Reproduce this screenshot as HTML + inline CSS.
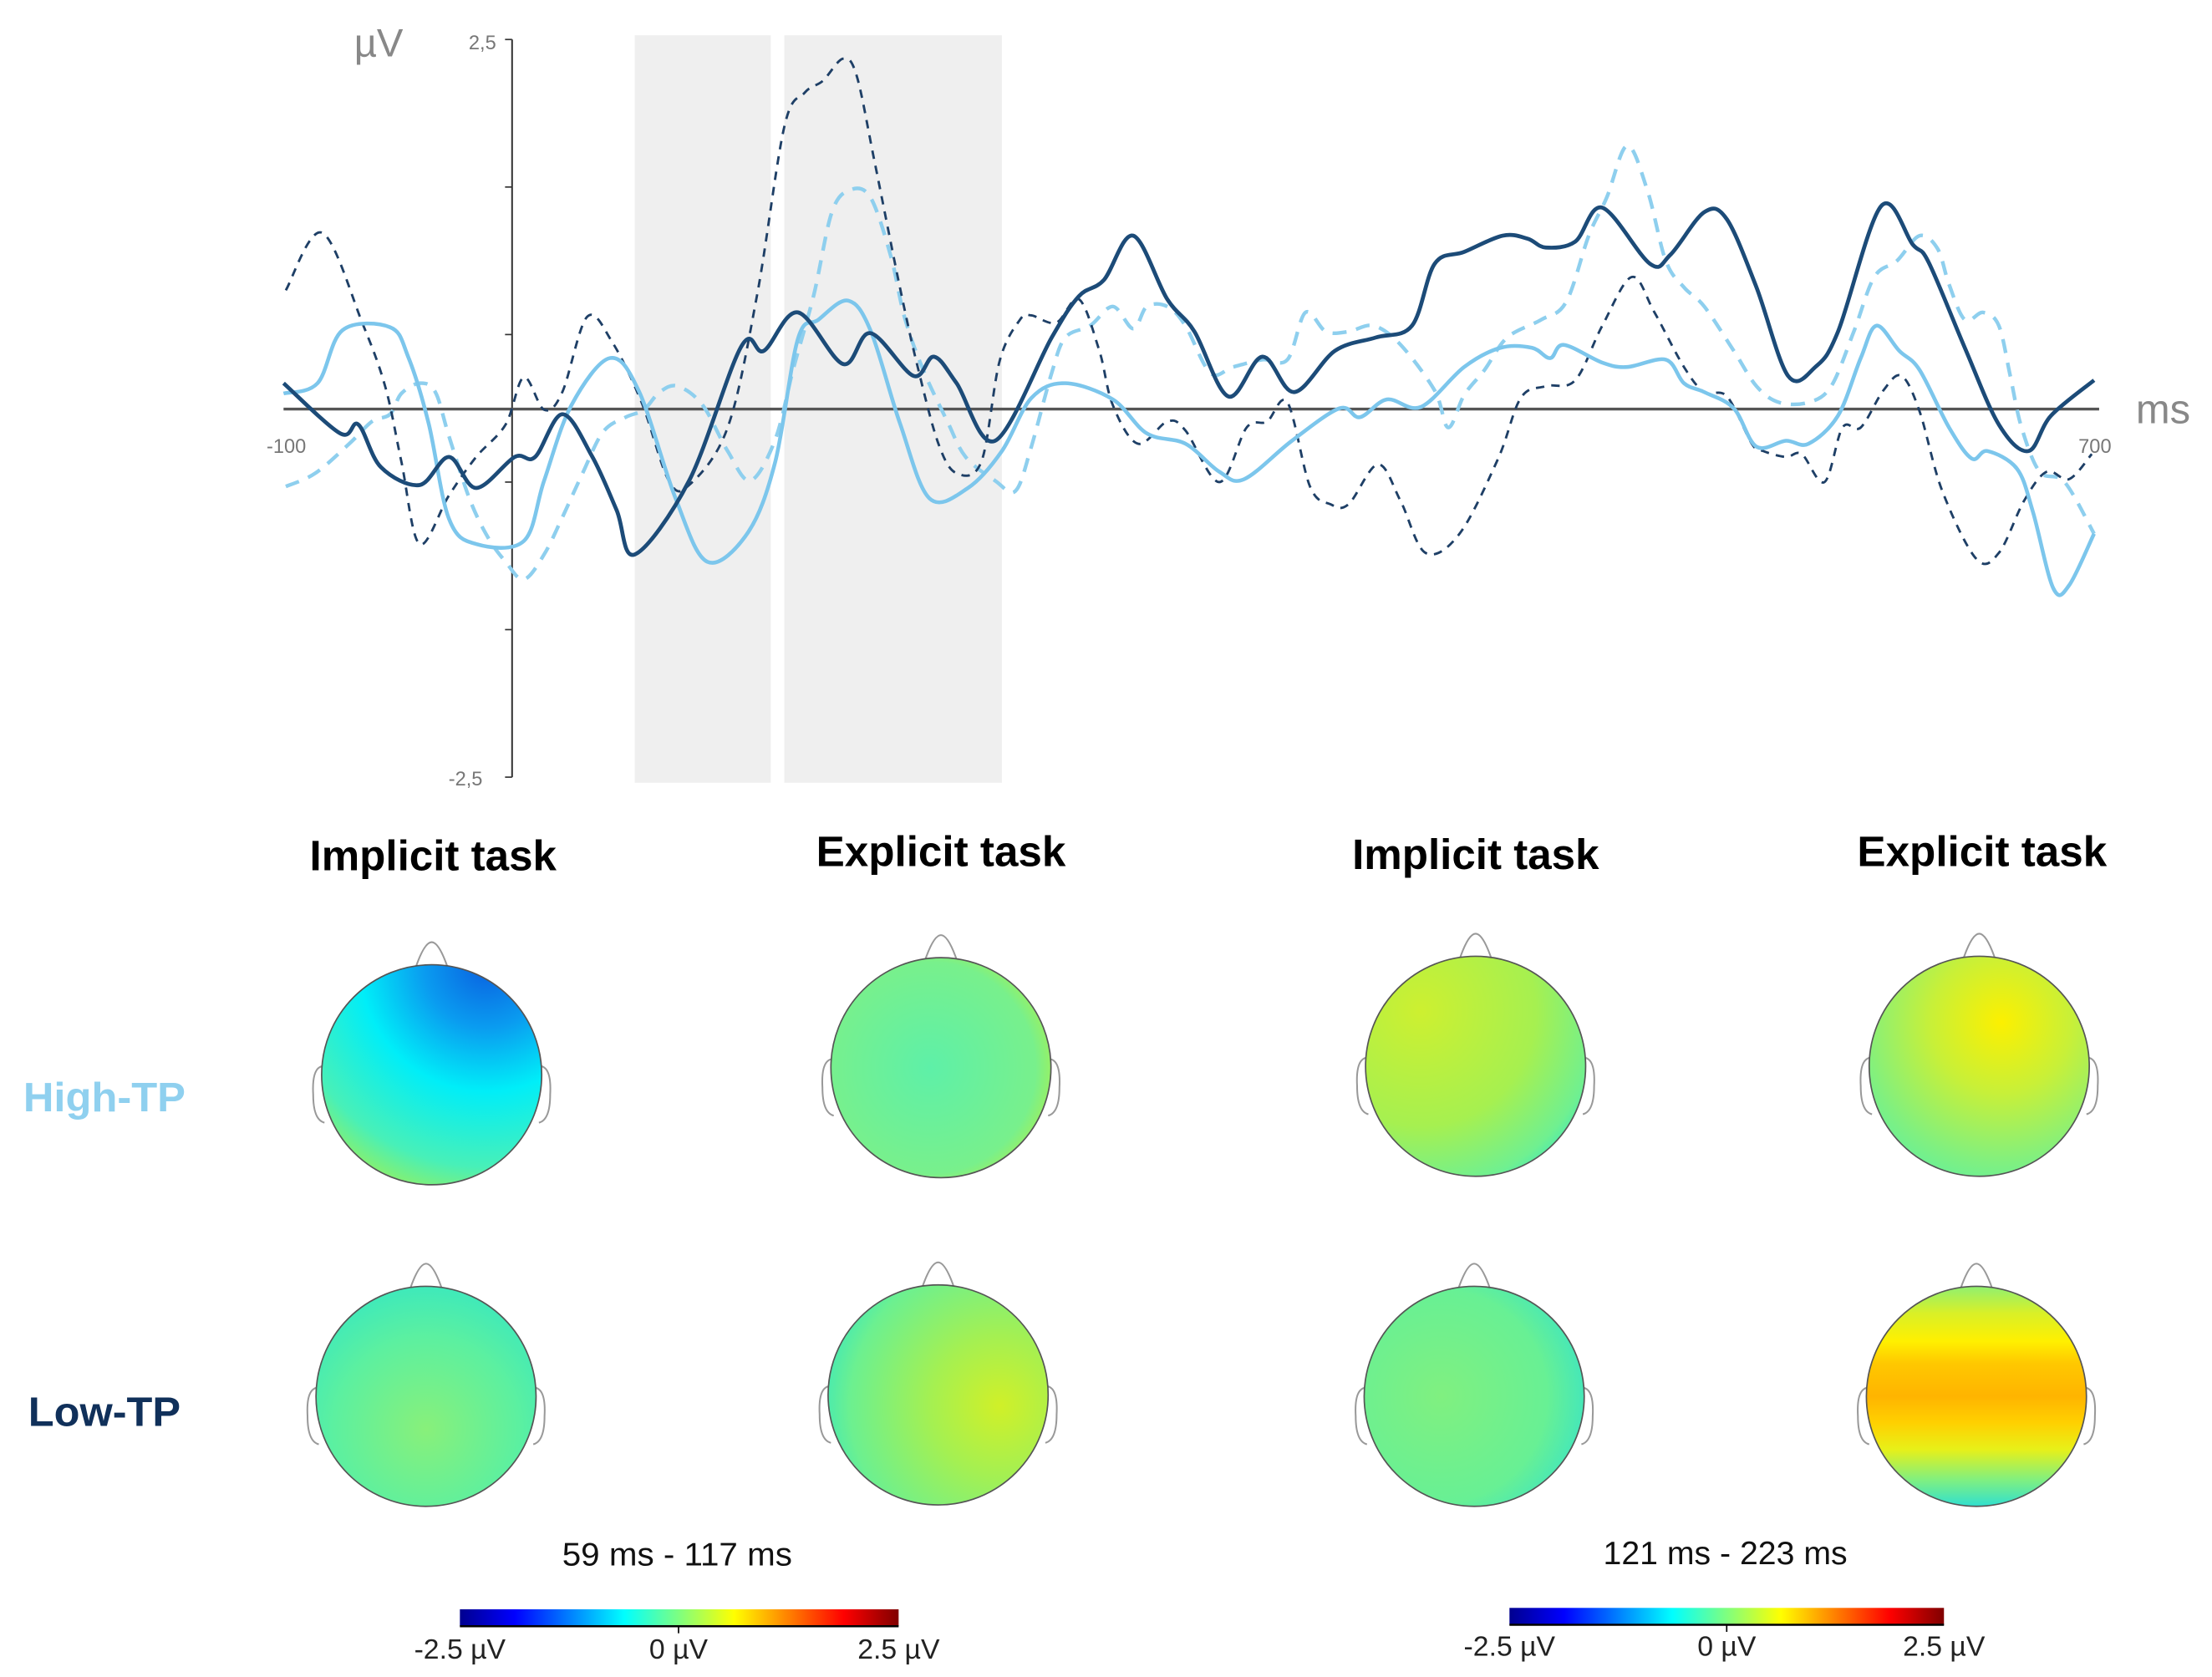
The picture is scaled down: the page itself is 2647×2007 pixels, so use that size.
<!DOCTYPE html>
<html><head><meta charset="utf-8">
<style>
html,body{margin:0;padding:0;background:#fff;}
svg{display:block;}
text{font-family:"Liberation Sans",Arial,sans-serif;}
</style></head>
<body>
<svg id="fig" width="2647" height="2007" viewBox="0 0 1568 1189" preserveAspectRatio="none" xmlns="http://www.w3.org/2000/svg">
<defs>
  <linearGradient id="jet" x1="0" x2="1" y1="0" y2="0">
    <stop offset="0" stop-color="#00008f"/><stop offset="0.125" stop-color="#0000ff"/>
    <stop offset="0.375" stop-color="#00ffff"/><stop offset="0.5" stop-color="#7fff7f"/>
    <stop offset="0.625" stop-color="#ffff00"/><stop offset="0.875" stop-color="#ff0000"/>
    <stop offset="1" stop-color="#800000"/>
  </linearGradient>
  <radialGradient id="g11" cx="0.75" cy="0.0" r="1.15">
    <stop offset="0" stop-color="#0a60e0"/><stop offset="0.25" stop-color="#0a9cf0"/>
    <stop offset="0.5" stop-color="#00eef8"/><stop offset="0.8" stop-color="#48f0b8"/>
    <stop offset="1" stop-color="#a8f048"/>
  </radialGradient>
  <radialGradient id="g12" cx="0.45" cy="0.5" r="0.6">
    <stop offset="0" stop-color="#5ef0a8"/><stop offset="0.8" stop-color="#78f08c"/>
    <stop offset="1" stop-color="#a8f050"/>
  </radialGradient>
  <radialGradient id="g13" cx="0.25" cy="0.25" r="0.95">
    <stop offset="0" stop-color="#cdf030"/><stop offset="0.55" stop-color="#a6f050"/>
    <stop offset="0.85" stop-color="#70f090"/><stop offset="1" stop-color="#30e8c8"/>
  </radialGradient>
  <radialGradient id="g14" cx="0.6" cy="0.3" r="0.8">
    <stop offset="0" stop-color="#fcf000"/><stop offset="0.4" stop-color="#c8f038"/>
    <stop offset="0.8" stop-color="#80f080"/><stop offset="1" stop-color="#60f0a0"/>
  </radialGradient>
  <radialGradient id="g21" cx="0.5" cy="0.65" r="0.7">
    <stop offset="0" stop-color="#88f07a"/><stop offset="0.6" stop-color="#5cf0a0"/>
    <stop offset="1" stop-color="#38e8c0"/>
  </radialGradient>
  <radialGradient id="g22" cx="0.78" cy="0.55" r="0.8">
    <stop offset="0" stop-color="#d0f028"/><stop offset="0.4" stop-color="#a4f052"/>
    <stop offset="0.85" stop-color="#6cf090"/><stop offset="1" stop-color="#48eab0"/>
  </radialGradient>
  <radialGradient id="g23" cx="0.35" cy="0.5" r="0.8">
    <stop offset="0" stop-color="#80f080"/><stop offset="0.6" stop-color="#68f094"/>
    <stop offset="1" stop-color="#28e0d8"/>
  </radialGradient>
  <linearGradient id="g24" x1="0" x2="0" y1="0" y2="1">
    <stop offset="0" stop-color="#90f070"/><stop offset="0.12" stop-color="#d8f028"/>
    <stop offset="0.25" stop-color="#fff000"/><stop offset="0.35" stop-color="#ffc800"/>
    <stop offset="0.5" stop-color="#ffb400"/><stop offset="0.62" stop-color="#ffd000"/>
    <stop offset="0.74" stop-color="#e8f018"/><stop offset="0.88" stop-color="#80f080"/>
    <stop offset="1" stop-color="#30e0d0"/>
  </linearGradient>
</defs>

<g id="bands"></g>
<line x1="363" y1="28" x2="363" y2="551" stroke="#333" stroke-width="1.2"/>
<g id="yticks"></g>
<line x1="201" y1="290" x2="1488" y2="290" stroke="#555" stroke-width="2"/>
<text x="251" y="40" font-size="28" fill="#888">µV</text>
<text x="342" y="35" font-size="14" fill="#777" text-anchor="middle">2,5</text>
<text x="330" y="557" font-size="14" fill="#777" text-anchor="middle">-2,5</text>
<text x="203" y="321" font-size="14" fill="#777" text-anchor="middle">-100</text>
<text x="1485" y="321" font-size="14" fill="#777" text-anchor="middle">700</text>
<text x="1514" y="300" font-size="29" fill="#888">ms</text>
<g id="lines"></g>

<g font-size="30" font-weight="bold" fill="#000" text-anchor="middle">
  <text x="307" y="617" textLength="175" lengthAdjust="spacingAndGlyphs">Implicit task</text>
  <text x="667" y="614" textLength="177" lengthAdjust="spacingAndGlyphs">Explicit task</text>
  <text x="1046" y="616" textLength="175" lengthAdjust="spacingAndGlyphs">Implicit task</text>
  <text x="1405" y="614" textLength="177" lengthAdjust="spacingAndGlyphs">Explicit task</text>
</g>
<text x="74" y="788" font-size="29" font-weight="bold" fill="#8fd0ef" text-anchor="middle" textLength="115" lengthAdjust="spacingAndGlyphs">High-TP</text>
<text x="74" y="1011" font-size="29" font-weight="bold" fill="#10305a" text-anchor="middle" textLength="108" lengthAdjust="spacingAndGlyphs">Low-TP</text>

<g id="heads"></g>

<text x="480" y="1110" font-size="23" fill="#111" text-anchor="middle" textLength="163" lengthAdjust="spacingAndGlyphs">59 ms - 117 ms</text>
<text x="1223" y="1109" font-size="23" fill="#111" text-anchor="middle" textLength="173" lengthAdjust="spacingAndGlyphs">121 ms - 223 ms</text>

<g>
  <rect x="326" y="1141" width="311" height="12" fill="url(#jet)"/>
  <line x1="326" y1="1153" x2="637" y2="1153" stroke="#000" stroke-width="1.5"/>
  <line x1="481" y1="1153" x2="481" y2="1158" stroke="#000" stroke-width="1"/>
  <text x="326" y="1176" font-size="20" fill="#222" text-anchor="middle">-2.5 µV</text>
  <text x="481" y="1176" font-size="20" fill="#222" text-anchor="middle">0 µV</text>
  <text x="637" y="1176" font-size="20" fill="#222" text-anchor="middle">2.5 µV</text>
</g>
<g>
  <rect x="1070" y="1140" width="308" height="12" fill="url(#jet)"/>
  <line x1="1070" y1="1152" x2="1378" y2="1152" stroke="#000" stroke-width="1.5"/>
  <line x1="1224" y1="1152" x2="1224" y2="1157" stroke="#000" stroke-width="1"/>
  <text x="1070" y="1174" font-size="20" fill="#222" text-anchor="middle">-2.5 µV</text>
  <text x="1224" y="1174" font-size="20" fill="#222" text-anchor="middle">0 µV</text>
  <text x="1378" y="1174" font-size="20" fill="#222" text-anchor="middle">2.5 µV</text>
</g>
</svg>

<script>
var windowStarts = [55, 121];
var windowEnds = [115, 217];
var yTickValues = [2.5, 1.5, 0.5, -0.5, -1.5, -2.5];

var darkSolidT = [-100,-75,-67,-57,-40,-27,-15,2,11,23,36,47,55,79,102,112,127,147,159,178,187,197,214,239,251,262,275,290,302,317,332,346,364,382,398,408,421,438,449,457,470,482,503,512,527,537,550,564,576,586,605,619,626,642,657,670,680,699];
var darkSolidV = [0.17,-0.17,-0.11,-0.40,-0.52,-0.33,-0.54,-0.33,-0.33,-0.04,-0.32,-0.69,-0.99,-0.49,0.42,0.39,0.65,0.30,0.51,0.22,0.35,0.17,-0.22,0.48,0.76,0.87,1.17,0.74,0.52,0.08,0.35,0.11,0.39,0.48,0.56,0.98,1.06,1.17,1.15,1.09,1.13,1.36,0.98,1.04,1.33,1.28,0.82,0.22,0.28,0.52,1.37,1.11,0.99,0.41,-0.11,-0.29,-0.05,0.19];

var lightSolidT = [-100,-85,-74,-53,-45,-36,-27,-15,6,15,27,44,57,73,87,105,117,127,136,149,159,172,185,202,217,230,245,266,281,298,313,324,345,366,375,387,402,421,437,451,459,465,482,493,510,518,527,540,550,563,573,586,596,603,613,622,635,645,652,665,672,681,688,699];
var lightSolidV = [0.10,0.17,0.53,0.55,0.35,-0.10,-0.75,-0.92,-0.90,-0.49,0.02,0.34,0.11,-0.61,-1.04,-0.84,-0.36,0.47,0.60,0.73,0.53,-0.10,-0.61,-0.54,-0.29,0.07,0.17,0.06,-0.17,-0.24,-0.43,-0.48,-0.22,0,-0.06,0.06,0.01,0.28,0.41,0.41,0.34,0.43,0.31,0.28,0.33,0.17,0.11,0,-0.26,-0.22,-0.24,-0.05,0.34,0.56,0.39,0.26,-0.13,-0.34,-0.29,-0.41,-0.70,-1.22,-1.20,-0.85];

var darkDashT = [-99,-83,-65,-55,-48,-40,-27,-15,-2,6,15,23,34,45,58,70,79,96,109,121,130,138,147,153,161,172,180,189,197,208,216,225,230,241,251,260,266,277,290,298,313,325,334,343,353,362,370,383,393,404,419,436,446,457,470,482,495,505,518,527,537,548,553,563,570,580,588,596,606,614,622,632,647,657,668,678,688,698];
var darkDashV = [0.80,1.19,0.57,0.14,-0.36,-0.92,-0.59,-0.33,-0.11,0.21,-0.01,0.11,0.62,0.45,0.04,-0.49,-0.52,-0.13,0.77,1.91,2.14,2.22,2.37,2.25,1.66,0.82,0.27,-0.24,-0.44,-0.36,0.32,0.60,0.63,0.58,0.74,0.39,0.02,-0.24,-0.09,-0.15,-0.50,-0.13,-0.09,0.04,-0.53,-0.65,-0.65,-0.38,-0.63,-0.98,-0.85,-0.34,0.07,0.15,0.19,0.56,0.89,0.65,0.28,0.11,0.08,-0.24,-0.29,-0.33,-0.31,-0.50,-0.13,-0.13,0.12,0.22,-0.02,-0.56,-1.02,-0.98,-0.63,-0.43,-0.48,-0.31];

var lightDashT = [-99,-86,-71,-61,-53,-48,-40,-33,-27,-18,-10,-2,6,15,23,32,41,51,59,66,74,85,96,106,117,125,134,142,150,159,168,174,182,193,201,214,223,230,239,245,256,266,275,281,290,298,309,319,332,343,351,360,370,381,393,408,414,421,430,440,455,466,476,484,493,502,510,518,527,540,550,560,573,583,593,602,612,622,630,635,642,650,657,662,667,675,686,699];
var lightDashV = [-0.53,-0.44,-0.24,-0.09,-0.04,0.10,0.17,0.11,-0.19,-0.61,-0.87,-1.04,-1.16,-0.99,-0.74,-0.44,-0.16,-0.06,-0.01,0.11,0.15,0.02,-0.29,-0.49,-0.21,0.27,0.77,1.33,1.48,1.43,1.03,0.62,0.27,-0.09,-0.33,-0.49,-0.56,-0.26,0.24,0.48,0.56,0.69,0.54,0.69,0.69,0.56,0.24,0.28,0.33,0.33,0.65,0.52,0.52,0.56,0.43,0.12,-0.13,0.09,0.26,0.48,0.60,0.72,1.17,1.43,1.78,1.47,1.00,0.82,0.69,0.39,0.15,0.04,0.04,0.15,0.52,0.89,1.00,1.17,1.08,0.84,0.60,0.65,0.56,0.22,-0.13,-0.43,-0.50,-0.85];

var X0 = 201, X1 = 1486, T0 = -100, T1 = 700;
var YZ = 289.5, YPX = 104.6;
function xs(t){ return X0 + (t - T0) * (X1 - X0) / (T1 - T0); }
function ys(v){ return YZ - v * YPX; }

var NS = "http://www.w3.org/2000/svg";
function mk(tag, attrs){ var e = document.createElementNS(NS, tag); for (var k in attrs) e.setAttribute(k, attrs[k]); return e; }

var bands = document.getElementById('bands');
for (var i = 0; i < windowStarts.length; i++) {
  var r = mk('rect', {x: xs(windowStarts[i]), y: 25, width: xs(windowEnds[i]) - xs(windowStarts[i]), height: 530, fill: '#efefef'});
  
  
  bands.appendChild(r);
}
var yt = document.getElementById('yticks');
for (var i = 0; i < yTickValues.length; i++) {
  var l = mk('line', {x1: 358, x2: 363, y1: ys(yTickValues[i]), y2: ys(yTickValues[i]), stroke: '#333', 'stroke-width': 1});
  
  
  yt.appendChild(l);
}

function pathFrom(T, V){
  var p = T.map(function(t, i){ return [xs(t), ys(V[i])]; });
  var d = 'M' + p[0][0].toFixed(1) + ',' + p[0][1].toFixed(1);
  for (var i = 0; i < p.length - 1; i++) {
    var p0 = p[Math.max(0, i - 1)], p1 = p[i], p2 = p[i + 1], p3 = p[Math.min(p.length - 1, i + 2)];
    var c1x = p1[0] + (p2[0] - p0[0]) / 6, c1y = p1[1] + (p2[1] - p0[1]) / 6;
    var c2x = p2[0] - (p3[0] - p1[0]) / 6, c2y = p2[1] - (p3[1] - p1[1]) / 6;
    d += ' C' + c1x.toFixed(1) + ',' + c1y.toFixed(1) + ' ' + c2x.toFixed(1) + ',' + c2y.toFixed(1) + ' ' + p2[0].toFixed(1) + ',' + p2[1].toFixed(1);
  }
  return d;
}
var lines = document.getElementById('lines');
var ldash = mk('path', {d: pathFrom(lightDashT, lightDashV), fill: 'none', stroke: '#8ecfee', 'stroke-width': 2.6, 'stroke-dasharray': '10,7'});


lines.appendChild(ldash);
var ddash = mk('path', {d: pathFrom(darkDashT, darkDashV), fill: 'none', stroke: '#1e3f66', 'stroke-width': 1.7, 'stroke-dasharray': '6,5'});


lines.appendChild(ddash);
var lsol = mk('path', {d: pathFrom(lightSolidT, lightSolidV), fill: 'none', stroke: '#7cc6ec', 'stroke-width': 2.7});


lines.appendChild(lsol);
var dsol = mk('path', {d: pathFrom(darkSolidT, darkSolidV), fill: 'none', stroke: '#1c4b78', 'stroke-width': 2.8});


lines.appendChild(dsol);

var headCx = [306, 667, 1046, 1403, 302, 665, 1045, 1401];
var headCy = [762, 757, 756, 756, 990, 989, 990, 990];
var headFill = ['g11','g12','g13','g14','g21','g22','g23','g24'];
var headNames = ['topomap-high-tp-implicit-early','topomap-high-tp-explicit-early','topomap-high-tp-implicit-late','topomap-high-tp-explicit-late','topomap-low-tp-implicit-early','topomap-low-tp-explicit-early','topomap-low-tp-implicit-late','topomap-low-tp-explicit-late'];
var heads = document.getElementById('heads');
for (var i = 0; i < headCx.length; i++) {
  var cx = headCx[i], cy = headCy[i], R = 78;
  var g = mk('g', {});
  
  
  g.appendChild(mk('path', {d: 'M' + (cx - 11) + ',' + (cy - R + 1) + ' Q' + (cx - 5) + ',' + (cy - R - 16) + ' ' + cx + ',' + (cy - R - 16) + ' Q' + (cx + 5) + ',' + (cy - R - 16) + ' ' + (cx + 11) + ',' + (cy - R + 1), fill: 'none', stroke: '#999', 'stroke-width': 1.2}));
  g.appendChild(mk('path', {d: 'M' + (cx - R) + ',' + (cy - 6) + ' Q' + (cx - R - 7) + ',' + (cy - 4) + ' ' + (cx - R - 6) + ',' + (cy + 14) + ' Q' + (cx - R - 6) + ',' + (cy + 32) + ' ' + (cx - R + 2) + ',' + (cy + 34), fill: 'none', stroke: '#999', 'stroke-width': 1.2}));
  g.appendChild(mk('path', {d: 'M' + (cx + R) + ',' + (cy - 6) + ' Q' + (cx + R + 7) + ',' + (cy - 4) + ' ' + (cx + R + 6) + ',' + (cy + 14) + ' Q' + (cx + R + 6) + ',' + (cy + 32) + ' ' + (cx + R - 2) + ',' + (cy + 34), fill: 'none', stroke: '#999', 'stroke-width': 1.2}));
  g.appendChild(mk('circle', {cx: cx, cy: cy, r: R, fill: 'url(#' + headFill[i] + ')', stroke: '#555', 'stroke-width': 1}));
  heads.appendChild(g);
}
</script>
</body></html>
